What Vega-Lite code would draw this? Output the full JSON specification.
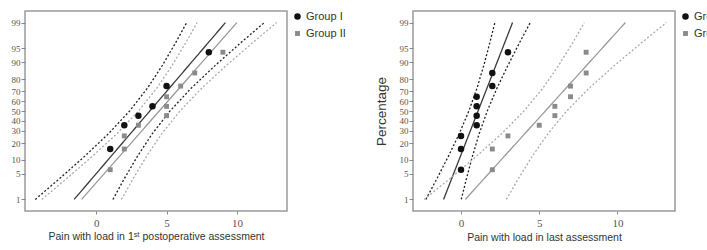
{
  "$schema": "https://vega.github.io/schema/vega-lite/v6.json",
  "background": "white",
  "padding": {"left": 10, "top": 10, "right": 0, "bottom": 0},
  "config": {
    "view": {"stroke": "#9a9a9a", "strokeWidth": 1.5},
    "axis": {"domain": false, "grid": false, "tickColor": "#888", "tickSize": 4, "labelFont": "Liberation Serif", "labelColor": "#555", "titleFont": "Liberation Sans", "titleFontWeight": "normal", "titleColor": "#333", "labelOverlap": false, "labelBound": false},
    "legend": {"labelFont": "Liberation Sans", "labelFontSize": 11, "labelColor": "#333", "offset": 5, "padding": 0, "rowPadding": 4, "labelOffset": 3},
    "concat": {"spacing": 26}
  },
  "datasets": {
    "pts1": [
      {"group": "Group I", "x": 1, "pct": 15.9, "z": -1.0},
      {"group": "Group I", "x": 2, "pct": 35.4, "z": -0.375},
      {"group": "Group I", "x": 3, "pct": 45.1, "z": -0.122},
      {"group": "Group I", "x": 4, "pct": 54.9, "z": 0.122},
      {"group": "Group I", "x": 5, "pct": 74.4, "z": 0.655},
      {"group": "Group I", "x": 8, "pct": 93.9, "z": 1.545},
      {"group": "Group II", "x": 1, "pct": 6.1, "z": -1.545},
      {"group": "Group II", "x": 2, "pct": 15.9, "z": -1.0},
      {"group": "Group II", "x": 2, "pct": 25.6, "z": -0.655},
      {"group": "Group II", "x": 3, "pct": 35.4, "z": -0.375},
      {"group": "Group II", "x": 5, "pct": 45.1, "z": -0.122},
      {"group": "Group II", "x": 5, "pct": 54.9, "z": 0.122},
      {"group": "Group II", "x": 5, "pct": 64.6, "z": 0.375},
      {"group": "Group II", "x": 6, "pct": 74.4, "z": 0.655},
      {"group": "Group II", "x": 7, "pct": 84.1, "z": 1.0},
      {"group": "Group II", "x": 9, "pct": 93.9, "z": 1.545}
    ],
    "pts2": [
      {"group": "Group I", "x": 0, "pct": 6.1, "z": -1.545},
      {"group": "Group I", "x": 0, "pct": 15.9, "z": -1.0},
      {"group": "Group I", "x": 0, "pct": 25.6, "z": -0.655},
      {"group": "Group I", "x": 1, "pct": 35.4, "z": -0.375},
      {"group": "Group I", "x": 1, "pct": 45.1, "z": -0.122},
      {"group": "Group I", "x": 1, "pct": 54.9, "z": 0.122},
      {"group": "Group I", "x": 1, "pct": 64.6, "z": 0.375},
      {"group": "Group I", "x": 2, "pct": 74.4, "z": 0.655},
      {"group": "Group I", "x": 2, "pct": 84.1, "z": 1.0},
      {"group": "Group I", "x": 3, "pct": 93.9, "z": 1.545},
      {"group": "Group II", "x": 2, "pct": 6.1, "z": -1.545},
      {"group": "Group II", "x": 2, "pct": 15.9, "z": -1.0},
      {"group": "Group II", "x": 3, "pct": 25.6, "z": -0.655},
      {"group": "Group II", "x": 5, "pct": 35.4, "z": -0.375},
      {"group": "Group II", "x": 6, "pct": 45.1, "z": -0.122},
      {"group": "Group II", "x": 6, "pct": 54.9, "z": 0.122},
      {"group": "Group II", "x": 7, "pct": 64.6, "z": 0.375},
      {"group": "Group II", "x": 7, "pct": 74.4, "z": 0.655},
      {"group": "Group II", "x": 8, "pct": 84.1, "z": 1.0},
      {"group": "Group II", "x": 8, "pct": 93.9, "z": 1.545}
    ],
    "lines1": [
      {"series": "I fit", "curve": "Ifit", "z": -2.326, "x": -1.563},
      {"series": "I fit", "curve": "Ifit", "z": 2.326, "x": 9.183},
      {"series": "I CI", "curve": "Ilo", "z": -2.326, "x": -4.319},
      {"series": "I CI", "curve": "Ilo", "z": -1.8, "x": -2.666},
      {"series": "I CI", "curve": "Ilo", "z": -1.2, "x": -0.84},
      {"series": "I CI", "curve": "Ilo", "z": -0.6, "x": 0.869},
      {"series": "I CI", "curve": "Ilo", "z": 0, "x": 2.378},
      {"series": "I CI", "curve": "Ilo", "z": 0.6, "x": 3.641},
      {"series": "I CI", "curve": "Ilo", "z": 1.2, "x": 4.704},
      {"series": "I CI", "curve": "Ilo", "z": 1.8, "x": 5.65},
      {"series": "I CI", "curve": "Ilo", "z": 2.326, "x": 6.427},
      {"series": "I CI", "curve": "Ihi", "z": -2.326, "x": 1.193},
      {"series": "I CI", "curve": "Ihi", "z": -1.8, "x": 1.97},
      {"series": "I CI", "curve": "Ihi", "z": -1.2, "x": 2.916},
      {"series": "I CI", "curve": "Ihi", "z": -0.6, "x": 3.979},
      {"series": "I CI", "curve": "Ihi", "z": 0, "x": 5.242},
      {"series": "I CI", "curve": "Ihi", "z": 0.6, "x": 6.751},
      {"series": "I CI", "curve": "Ihi", "z": 1.2, "x": 8.46},
      {"series": "I CI", "curve": "Ihi", "z": 1.8, "x": 10.286},
      {"series": "I CI", "curve": "Ihi", "z": 2.326, "x": 11.939},
      {"series": "II fit", "curve": "IIfit", "z": -2.326, "x": -1.033},
      {"series": "II fit", "curve": "IIfit", "z": 2.326, "x": 9.993},
      {"series": "II CI", "curve": "IIlo", "z": -2.326, "x": -3.86},
      {"series": "II CI", "curve": "IIlo", "z": -1.8, "x": -2.164},
      {"series": "II CI", "curve": "IIlo", "z": -1.2, "x": -0.29},
      {"series": "II CI", "curve": "IIlo", "z": -0.6, "x": 1.462},
      {"series": "II CI", "curve": "IIlo", "z": 0, "x": 3.011},
      {"series": "II CI", "curve": "IIlo", "z": 0.6, "x": 4.306},
      {"series": "II CI", "curve": "IIlo", "z": 1.2, "x": 5.398},
      {"series": "II CI", "curve": "IIlo", "z": 1.8, "x": 6.368},
      {"series": "II CI", "curve": "IIlo", "z": 2.326, "x": 7.166},
      {"series": "II CI", "curve": "IIhi", "z": -2.326, "x": 1.794},
      {"series": "II CI", "curve": "IIhi", "z": -1.8, "x": 2.592},
      {"series": "II CI", "curve": "IIhi", "z": -1.2, "x": 3.562},
      {"series": "II CI", "curve": "IIhi", "z": -0.6, "x": 4.654},
      {"series": "II CI", "curve": "IIhi", "z": 0, "x": 5.949},
      {"series": "II CI", "curve": "IIhi", "z": 0.6, "x": 7.498},
      {"series": "II CI", "curve": "IIhi", "z": 1.2, "x": 9.25},
      {"series": "II CI", "curve": "IIhi", "z": 1.8, "x": 11.124},
      {"series": "II CI", "curve": "IIhi", "z": 2.326, "x": 12.82}
    ],
    "lines2": [
      {"series": "I fit", "curve": "Ifit", "z": -2.326, "x": -1.115},
      {"series": "I fit", "curve": "Ifit", "z": 2.326, "x": 3.295},
      {"series": "I CI", "curve": "Ilo", "z": -2.326, "x": -2.246},
      {"series": "I CI", "curve": "Ilo", "z": -1.8, "x": -1.567},
      {"series": "I CI", "curve": "Ilo", "z": -1.2, "x": -0.819},
      {"series": "I CI", "curve": "Ilo", "z": -0.6, "x": -0.117},
      {"series": "I CI", "curve": "Ilo", "z": 0, "x": 0.502},
      {"series": "I CI", "curve": "Ilo", "z": 0.6, "x": 1.021},
      {"series": "I CI", "curve": "Ilo", "z": 1.2, "x": 1.457},
      {"series": "I CI", "curve": "Ilo", "z": 1.8, "x": 1.845},
      {"series": "I CI", "curve": "Ilo", "z": 2.326, "x": 2.164},
      {"series": "I CI", "curve": "Ihi", "z": -2.326, "x": 0.016},
      {"series": "I CI", "curve": "Ihi", "z": -1.8, "x": 0.335},
      {"series": "I CI", "curve": "Ihi", "z": -1.2, "x": 0.723},
      {"series": "I CI", "curve": "Ihi", "z": -0.6, "x": 1.159},
      {"series": "I CI", "curve": "Ihi", "z": 0, "x": 1.678},
      {"series": "I CI", "curve": "Ihi", "z": 0.6, "x": 2.297},
      {"series": "I CI", "curve": "Ihi", "z": 1.2, "x": 2.999},
      {"series": "I CI", "curve": "Ihi", "z": 1.8, "x": 3.747},
      {"series": "I CI", "curve": "Ihi", "z": 2.326, "x": 4.426},
      {"series": "II fit", "curve": "IIfit", "z": -2.326, "x": 0.273},
      {"series": "II fit", "curve": "IIfit", "z": 2.326, "x": 10.507},
      {"series": "II CI", "curve": "IIlo", "z": -2.326, "x": -2.352},
      {"series": "II CI", "curve": "IIlo", "z": -1.8, "x": -0.777},
      {"series": "II CI", "curve": "IIlo", "z": -1.2, "x": 0.962},
      {"series": "II CI", "curve": "IIlo", "z": -0.6, "x": 2.589},
      {"series": "II CI", "curve": "IIlo", "z": 0, "x": 4.027},
      {"series": "II CI", "curve": "IIlo", "z": 0.6, "x": 5.229},
      {"series": "II CI", "curve": "IIlo", "z": 1.2, "x": 6.242},
      {"series": "II CI", "curve": "IIlo", "z": 1.8, "x": 7.143},
      {"series": "II CI", "curve": "IIlo", "z": 2.326, "x": 7.882},
      {"series": "II CI", "curve": "IIhi", "z": -2.326, "x": 2.898},
      {"series": "II CI", "curve": "IIhi", "z": -1.8, "x": 3.637},
      {"series": "II CI", "curve": "IIhi", "z": -1.2, "x": 4.538},
      {"series": "II CI", "curve": "IIhi", "z": -0.6, "x": 5.551},
      {"series": "II CI", "curve": "IIhi", "z": 0, "x": 6.753},
      {"series": "II CI", "curve": "IIhi", "z": 0.6, "x": 8.191},
      {"series": "II CI", "curve": "IIhi", "z": 1.2, "x": 9.818},
      {"series": "II CI", "curve": "IIhi", "z": 1.8, "x": 11.557},
      {"series": "II CI", "curve": "IIhi", "z": 2.326, "x": 13.132}
    ]
  },
  "hconcat": [
    {
      "width": 262,
      "height": 200,
      "layer": [
        {
          "data": {"name": "lines1"},
          "mark": {"type": "line", "strokeWidth": 1.3},
          "encoding": {
            "x": {"field": "x", "type": "quantitative", "scale": {"domain": [-5.05, 13.55], "nice": false, "zero": false},
                  "axis": {"values": [0, 5, 10], "tickSize": 3, "labelFontSize": 11, "labelPadding": 3, "title": "Pain with load in 1ˢᵗ postoperative assessment", "titleFontSize": 10.5, "titlePadding": 3}},
            "y": {"field": "z", "type": "quantitative", "scale": {"domain": [-2.63, 2.63], "nice": false, "zero": false},
                  "axis": {"values": [-2.3263, -1.6449, -1.2816, -0.8416, -0.5244, -0.2533, 0, 0.2533, 0.5244, 0.8416, 1.2816, 1.6449, 2.3263], "tickCount": 30, "labelFontSize": 9, "labelPadding": 1, "title": null,
                           "labelExpr": "datum.value < -2 ? '1' : datum.value < -1.5 ? '5' : datum.value < -1 ? '10' : datum.value < -0.7 ? '20' : datum.value < -0.4 ? '30' : datum.value < -0.1 ? '40' : datum.value < 0.1 ? '50' : datum.value < 0.4 ? '60' : datum.value < 0.7 ? '70' : datum.value < 1 ? '80' : datum.value < 1.5 ? '90' : datum.value < 2 ? '95' : '99'"}},
            "detail": {"field": "curve"},
            "order": {"field": "z", "type": "quantitative"},
            "stroke": {"field": "series", "type": "nominal", "scale": {"domain": ["I fit", "I CI", "II fit", "II CI"], "range": ["#3a3a3a", "#222222", "#9a9a9a", "#ababab"]}, "legend": null},
            "strokeDash": {"field": "series", "type": "nominal", "scale": {"domain": ["I fit", "I CI", "II fit", "II CI"], "range": [[1, 0], [2, 2], [1, 0], [2, 2]]}, "legend": null}
          }
        },
        {
          "data": {"name": "pts1"},
          "mark": {"type": "point", "filled": true, "opacity": 1},
          "encoding": {
            "x": {"field": "x", "type": "quantitative"},
            "y": {"field": "z", "type": "quantitative"},
            "fill": {"field": "group", "type": "nominal", "scale": {"domain": ["Group I", "Group II"], "range": ["#111111", "#8a8a8a"]}, "legend": {"title": null}},
            "shape": {"field": "group", "type": "nominal", "scale": {"domain": ["Group I", "Group II"], "range": ["circle", "square"]}, "legend": {"title": null}},
            "size": {"field": "group", "type": "ordinal", "scale": {"domain": ["Group I", "Group II"], "range": [42, 24]}, "legend": {"title": null}}
          }
        }
      ]
    },
    {
      "width": 262,
      "height": 200,
      "layer": [
        {
          "data": {"name": "lines2"},
          "mark": {"type": "line", "strokeWidth": 1.3},
          "encoding": {
            "x": {"field": "x", "type": "quantitative", "scale": {"domain": [-3.07, 13.68], "nice": false, "zero": false},
                  "axis": {"values": [0, 5, 10], "tickSize": 3, "labelFontSize": 11, "labelPadding": 3, "title": "Pain with load in last assessment", "titleFontSize": 10.5, "titlePadding": 4}},
            "y": {"field": "z", "type": "quantitative", "scale": {"domain": [-2.63, 2.63], "nice": false, "zero": false},
                  "axis": {"values": [-2.3263, -1.6449, -1.2816, -0.8416, -0.5244, -0.2533, 0, 0.2533, 0.5244, 0.8416, 1.2816, 1.6449, 2.3263], "tickCount": 30, "labelFontSize": 9, "labelPadding": 1, "title": "Percentage", "titleFontSize": 13.5, "titlePadding": 11,
                           "labelExpr": "datum.value < -2 ? '1' : datum.value < -1.5 ? '5' : datum.value < -1 ? '10' : datum.value < -0.7 ? '20' : datum.value < -0.4 ? '30' : datum.value < -0.1 ? '40' : datum.value < 0.1 ? '50' : datum.value < 0.4 ? '60' : datum.value < 0.7 ? '70' : datum.value < 1 ? '80' : datum.value < 1.5 ? '90' : datum.value < 2 ? '95' : '99'"}},
            "detail": {"field": "curve"},
            "order": {"field": "z", "type": "quantitative"},
            "stroke": {"field": "series", "type": "nominal", "scale": {"domain": ["I fit", "I CI", "II fit", "II CI"], "range": ["#3a3a3a", "#222222", "#9a9a9a", "#ababab"]}, "legend": null},
            "strokeDash": {"field": "series", "type": "nominal", "scale": {"domain": ["I fit", "I CI", "II fit", "II CI"], "range": [[1, 0], [2, 2], [1, 0], [2, 2]]}, "legend": null}
          }
        },
        {
          "data": {"name": "pts2"},
          "mark": {"type": "point", "filled": true, "opacity": 1},
          "encoding": {
            "x": {"field": "x", "type": "quantitative"},
            "y": {"field": "z", "type": "quantitative"},
            "fill": {"field": "group", "type": "nominal", "scale": {"domain": ["Group I", "Group II"], "range": ["#111111", "#8a8a8a"]}, "legend": {"title": null}},
            "shape": {"field": "group", "type": "nominal", "scale": {"domain": ["Group I", "Group II"], "range": ["circle", "square"]}, "legend": {"title": null}},
            "size": {"field": "group", "type": "ordinal", "scale": {"domain": ["Group I", "Group II"], "range": [42, 24]}, "legend": {"title": null}}
          }
        }
      ]
    }
  ],
  "resolve": {"scale": {"fill": "independent", "shape": "independent", "size": "independent", "stroke": "independent", "strokeDash": "independent"}}
}
